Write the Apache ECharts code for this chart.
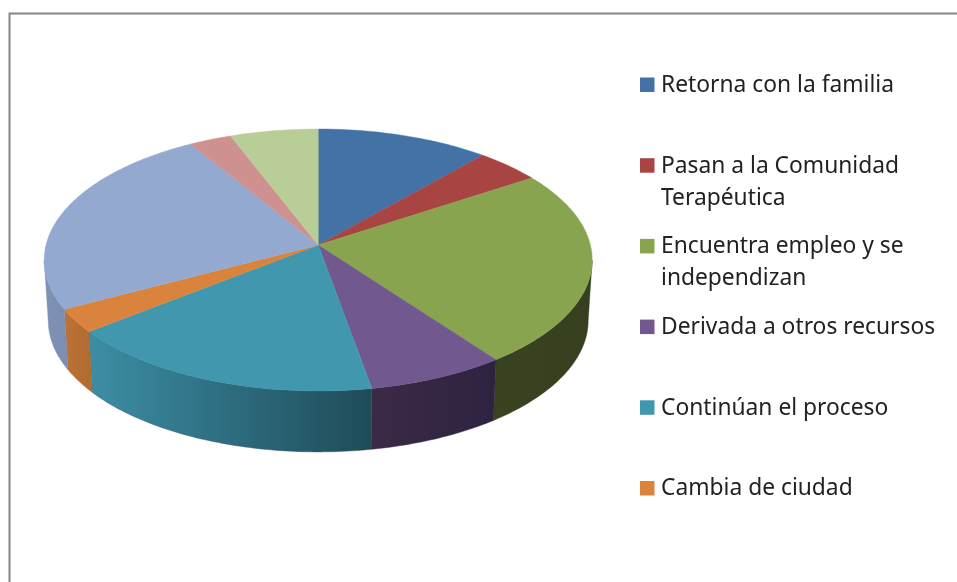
<!DOCTYPE html>
<html>
<head>
<meta charset="utf-8">
<style>html,body{margin:0;padding:0;background:#fff}#chart{width:957px;height:582px}</style>
<script src="https://cdn.jsdelivr.net/npm/echarts@6/dist/echarts.min.js"></script>
</head>
<body>
<div id="chart"></div>
<script>
// porcentajes (el origen esta arriba, sentido horario)
var sliceValues = [11.4, 4.3, 24.2, 7.3, 17.1, 2.9, 24.2, 2.8, 5.8];
// la leyenda original solo muestra las seis primeras
var legendNames = [
  'Retorna con la familia',
  'Pasan a la Comunidad\nTerapéutica',
  'Encuentra empleo y se\nindependizan',
  'Derivada a otros recursos',
  'Continúan el proceso',
  'Cambia de ciudad'
];
var topColors = ['#4272a6', '#a84543', '#89a44e', '#71588f', '#4097ae', '#d9833c', '#93a9cf', '#cf9190', '#b9cd96'];
var sideFrom = ['#2b4a6d', '#6e2d2c', '#394322', '#3b2a47', '#3c8ea5', '#bc7335', '#7f91b5', '#8a6060', '#7a8863'];
var sideTo = ['#2b4a6d', '#6e2d2c', '#36401f', '#2d2340', '#1f4b58', '#b06a30', '#7b8db0', '#8a6060', '#7a8863'];

// geometria de la elipse superior e inferior
var cx = 318.2, topCy = 260, topRx = 274, topRy = 131;
var botCy = 320.4, botRx = 270, botRy = 131.5;
var apexY = 245;
var persp = 0.0575; // desplaza el centro del circulo hacia el fondo

var total = sliceValues.reduce(function (a, b) { return a + b; }, 0);

// angulo real (grados desde arriba) -> angulo sobre la elipse vista en perspectiva
function toEllipse(deg) {
  var a = (90 - deg) * Math.PI / 180;
  var re = Math.cos(a), im = Math.sin(a) + persp;
  var dre = 1 + persp * Math.sin(a), dim = -persp * Math.cos(a);
  var d = dre * dre + dim * dim;
  var zr = (re * dre + im * dim) / d, zi = (im * dre - re * dim) / d;
  var out = 90 - Math.atan2(zi, zr) * 180 / Math.PI;
  // mantener el orden creciente alrededor del circulo
  while (out < deg - 90) out += 360;
  while (out > deg + 90) out -= 360;
  return out;
}

function ringPoint(phi, cy, rx, ry) {
  var r = phi * Math.PI / 180;
  return [cx + rx * Math.sin(r), cy - ry * Math.cos(r)];
}

function sliceRange(idx) {
  var start = 0;
  for (var i = 0; i < idx; i++) start += sliceValues[i];
  return [toEllipse(start / total * 360), toEllipse((start + sliceValues[idx]) / total * 360)];
}

function renderSide(params, api) {
  var range = sliceRange(api.value(0));
  // solo la mitad frontal se ve
  var from = Math.max(range[0], 90), to = Math.min(range[1], 270);
  if (to <= from) return;
  var upper = [], lower = [];
  for (var p = from; ; p += 1) {
    var q = Math.min(p, to);
    upper.push(ringPoint(q, topCy, topRx, topRy));
    lower.unshift(ringPoint(q, botCy, botRx, botRy));
    if (q === to) break;
  }
  var i = api.value(0);
  return {
    type: 'polygon',
    shape: { points: upper.concat(lower) },
    style: {
      fill: new echarts.graphic.LinearGradient(0, 0, 1, 0, [
        { offset: 0, color: sideFrom[i] },
        { offset: 1, color: sideTo[i] }
      ]),
      stroke: sideTo[i],
      lineWidth: 0.4
    }
  };
}

function renderTop(params, api) {
  var i = api.value(0);
  var range = sliceRange(i);
  var pts = [[cx, apexY]];
  for (var p = range[0]; ; p += 1) {
    var q = Math.min(p, range[1]);
    pts.push(ringPoint(q, topCy, topRx, topRy));
    if (q === range[1]) break;
  }
  return {
    type: 'polygon',
    shape: { points: pts },
    style: { fill: topColors[i], stroke: topColors[i], lineWidth: 0.4 }
  };
}

var sliceData = sliceValues.map(function (v, i) { return [i, v]; });

// leyenda con el texto pegado a la primera linea, como en el original
var legendGraphics = [];
legendNames.forEach(function (name, i) {
  var y = 77.5 + i * 80.7;
  legendGraphics.push({
    type: 'rect',
    shape: { x: 640, y: y, width: 14.5, height: 14.5 },
    style: { fill: topColors[i] }
  });
  legendGraphics.push({
    type: 'text',
    x: 661,
    y: y - 8,
    style: {
      text: name,
      fill: '#222222',
      font: '22.8px "Noto Sans"',
      lineHeight: 32,
      textAlign: 'left',
      textVerticalAlign: 'top'
    }
  });
});
legendGraphics.push({
  type: 'polyline',
  shape: { points: [[9.5, 582], [9.5, 13.5], [957, 13.5]] },
  style: { stroke: '#868686', lineWidth: 2, fill: null }
});

var chart = echarts.init(document.getElementById('chart'), null, { renderer: 'canvas' });
chart.setOption({
  backgroundColor: '#ffffff',
  animation: false,
  graphic: legendGraphics,
  series: [
    { type: 'custom', coordinateSystem: 'none', renderItem: renderSide, data: sliceData, silent: true, z: 2 },
    { type: 'custom', coordinateSystem: 'none', renderItem: renderTop, data: sliceData, silent: true, z: 3 }
  ]
});
</script>
</body>
</html>
